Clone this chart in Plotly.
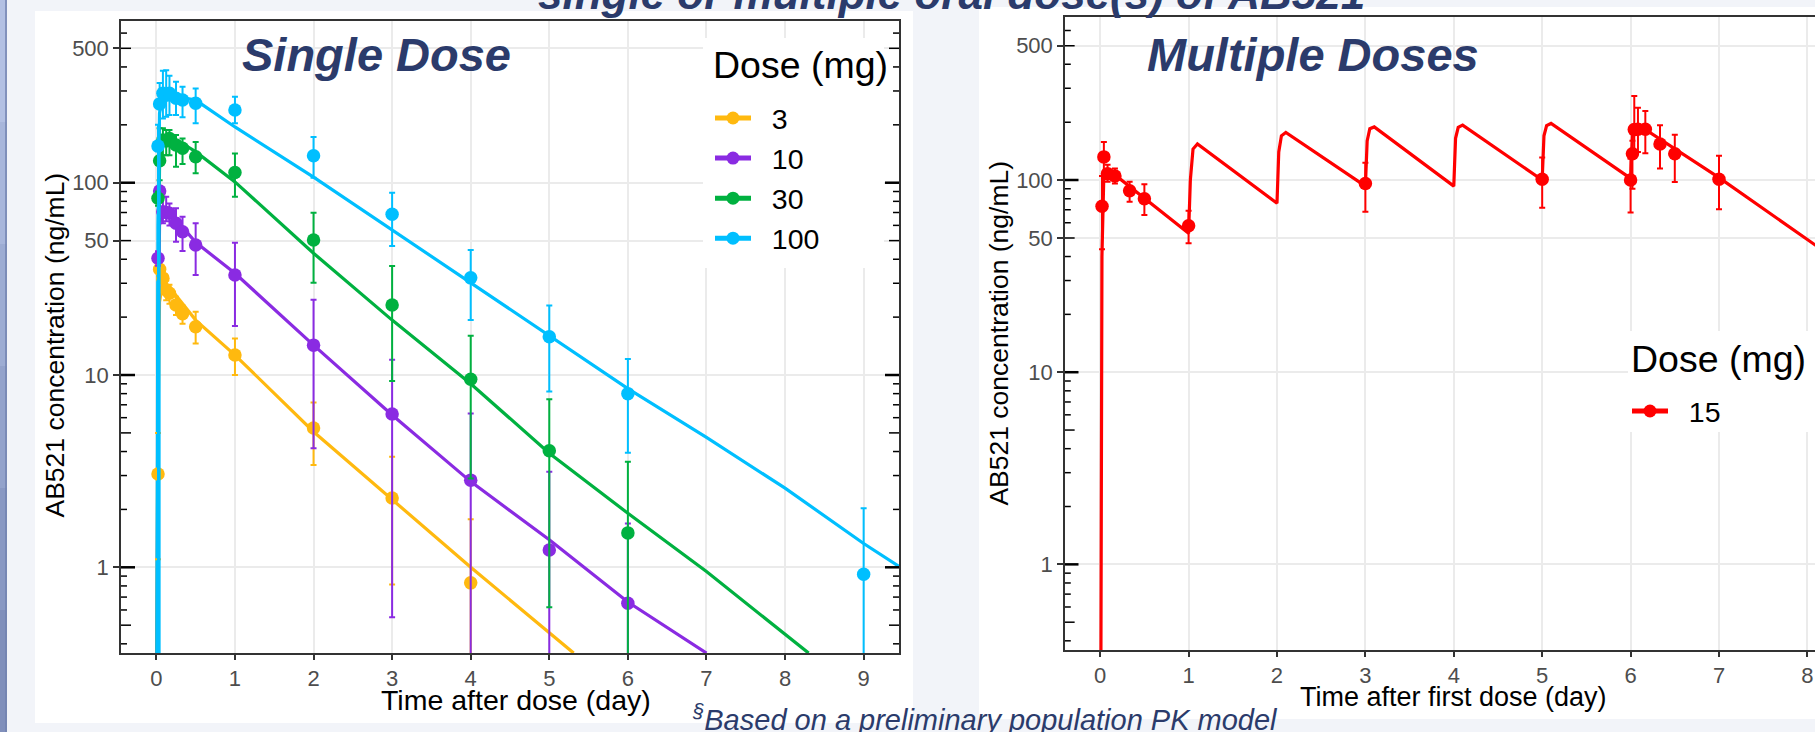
import plotly.graph_objects as go

W, H = 1815, 732

# ---------------- data: single dose panel (observed mean +/- range) ----------------
DOSES = ["3", "10", "30", "100"]
COLORS = ["#FFB90F", "#8A2BE2", "#00B140", "#00BFFF"]

obs_t_3 = [0.0208, 0.0417, 0.0833, 0.125, 0.1667, 0.25, 0.333, 0.5, 1, 2, 3, 4]
obs_c_3 = [3.06, 35.5, 31.9, 27.7, 26.6, 23.1, 20.8, 17.8, 12.7, 5.3, 2.29, 0.83]
obs_hi_3 = [5.0, 39, 35, 31, 29.5, 25.5, 23, 21.3, 15.5, 7.2, 3.76, 1.78]
obs_lo_3 = [1.1, 32, 28.5, 24.5, 23.5, 20.5, 18.5, 14.6, 10.0, 3.4, 0.815, 0]

obs_t_10 = [0.0208, 0.0417, 0.0833, 0.125, 0.1667, 0.25, 0.333, 0.5, 1, 2, 3, 4, 5, 6]
obs_c_10 = [40.5, 90.6, 70.6, 70.0, 69.3, 61.5, 55.6, 47.4, 33.1, 14.3, 6.27, 2.84, 1.23, 0.65]
obs_hi_10 = [44, 95, 84.6, 84.6, 78, 73.6, 66.6, 61.5, 48.8, 24.6, 12.0, 6.3, 3.14, 1.69]
obs_lo_10 = [37, 86, 61.5, 63, 60, 49.3, 44.2, 33.1, 18, 4.16, 0.55, 0, 0, 0]

obs_t_30 = [0.0208, 0.0417, 0.0833, 0.125, 0.1667, 0.25, 0.333, 0.5, 1, 2, 3, 4, 5, 6]
obs_c_30 = [83, 130, 167, 165, 170, 157, 151, 136.5, 113, 50.4, 23.1, 9.5, 4.04, 1.51]
obs_hi_30 = [90, 192, 192, 188, 188, 177, 170, 163, 142, 69.8, 36.9, 16, 7.47, 3.54]
obs_lo_30 = [76, 103, 139, 139, 139, 121, 125, 112, 84.6, 30.2, 9.3, 2.9, 0.62, 0]

obs_t_100 = [0.0208, 0.0417, 0.0833, 0.125, 0.1667, 0.25, 0.333, 0.5, 1, 2, 3, 4, 5, 6, 9]
obs_c_100 = [155, 257, 292, 285, 292, 275, 269, 259, 239, 138, 68.5, 32, 15.8, 8.0, 0.92]
obs_hi_100 = [200, 330, 382, 385, 360, 335, 316, 309, 280, 173, 88.7, 44.7, 23, 12.1, 2.03]
obs_lo_100 = [0, 0, 216, 220, 225, 225, 219, 204, 204, 106, 46.9, 19.3, 8.2, 3.94, 0]

# model-predicted lines
pred_t_3 = [0, 0.02, 0.04, 0.08, 0.12, 0.2, 0.5, 1, 2, 3, 4, 5.31]
pred_c_3 = [0.01, 5, 24, 30, 30, 27.5, 19.3, 12.7, 5.07, 2.24, 1.0, 0.358]
pred_t_10 = [0, 0.02, 0.04, 0.08, 0.12, 0.2, 0.5, 1, 2, 3, 4, 5, 6, 7.0]
pred_c_10 = [0.01, 10, 60, 72, 73, 68, 49, 33.8, 14.3, 6.2, 2.79, 1.39, 0.66, 0.358]
pred_t_30 = [0, 0.02, 0.04, 0.07, 0.12, 0.2, 0.5, 1, 2, 3, 4, 5, 6, 7, 8.3]
pred_c_30 = [0.01, 20, 120, 160, 175, 172, 145, 101, 43, 19.3, 9.0, 3.92, 1.91, 0.95, 0.358]
pred_t_100 = [0, 0.02, 0.04, 0.08, 0.12, 0.2, 0.5, 1, 2, 3, 4, 6, 7, 8, 9, 9.45]
pred_c_100 = [0.01, 60, 230, 275, 285, 283, 269, 195, 107, 56.8, 30, 8.5, 4.74, 2.58, 1.33, 1.01]

OBS_T = [obs_t_3, obs_t_10, obs_t_30, obs_t_100]
OBS_C = [obs_c_3, obs_c_10, obs_c_30, obs_c_100]
OBS_HI = [obs_hi_3, obs_hi_10, obs_hi_30, obs_hi_100]
OBS_LO = [obs_lo_3, obs_lo_10, obs_lo_30, obs_lo_100]
PRED_T = [pred_t_3, pred_t_10, pred_t_30, pred_t_100]
PRED_C = [pred_c_3, pred_c_10, pred_c_30, pred_c_100]

# ---------------- data: multiple dose panel (15 mg QD) ----------------
MD_DOSE = "15"
MD_COLOR = "#FF0000"
md_t = [0.0208, 0.0417, 0.0833, 0.1667, 0.333, 0.5, 1, 3, 5, 6.0, 6.0208, 6.0417, 6.0833, 6.1667, 6.333, 6.5, 7]
md_c = [73, 132, 108, 105, 88, 80, 57.8, 96, 101, 100, 137, 183, 184, 184, 154, 137, 101]
md_hi = [105, 158, 120, 115, 98, 95, 69.2, 123, 131, 129, 160, 274, 238, 229, 193, 172, 134]
md_lo = [43.7, 108, 98, 96, 77, 65.8, 46.9, 68.4, 71.8, 67.8, 90, 133, 140, 138, 115, 97.7, 70.5]
md_pred_t = [0, 0.02, 0.04, 0.08, 0.15, 1.0, 1.02, 1.05, 1.1, 2.0, 2.02, 2.05, 2.1, 3.0, 3.02, 3.05,
             3.1, 4.0, 4.02, 4.05, 4.1, 5.0, 5.02, 5.05, 5.1, 6.0, 6.02, 6.05, 6.1, 7.0, 8.4]
md_pred_c = [0.01, 40, 100, 112, 108, 52.8, 100, 145, 154, 75.7, 140, 170, 177, 93, 160, 185,
             189, 93, 165, 188, 193, 100, 170, 192, 197, 102, 170, 190, 192, 103, 36.4]

# axis ticks
X1_TICKS = [0, 1, 2, 3, 4, 5, 6, 7, 8, 9]
X2_TICKS = [0, 1, 2, 3, 4, 5, 6, 7, 8]
Y_TICKS = [1, 10, 50, 100, 500]
Y_TICKTEXT = ["1", "10", "50", "100", "500"]
LOGTICK_LONG = [1, 10, 100]
LOGTICK_MID = [0.5, 5, 50, 500]
LOGTICK_SHORT = [0.4, 0.6, 0.7, 0.8, 0.9, 2, 3, 4, 6, 7, 8, 9, 20, 30, 40, 60, 70, 80, 90,
                 200, 300, 400, 600]

NAVY = "#2B3B6B"
FONT = "Liberation Sans, Arial, sans-serif"
NBSP = "\u00a0\u00a0"
STRIP_COLORS = ["#B3C0E3", "#A8B6DB", "#9DACD3", "#93A2CB", "#8998C3", "#808FBB"]

# ---------------- geometry (pixels) ----------------
L1, R1, T1, B1 = 121, 899, 21, 653
L2, R2, T2, B2 = 1065, 1815, 17.3, 650
X2_FULL_W = 1842.8 - L2


def px(x):
    return x / W


def py(y):
    return 1 - y / H


fig = go.Figure()

# model lines
for d, c, tt, cc in zip(DOSES, COLORS, PRED_T, PRED_C):
    fig.add_trace(go.Scatter(x=tt, y=cc, mode="lines", line=dict(color=c, width=3.2),
                             showlegend=False, xaxis="x", yaxis="y", hoverinfo="skip"))
# observations
for d, c, tt, cc, hi, lo in zip(DOSES, COLORS, OBS_T, OBS_C, OBS_HI, OBS_LO):
    fig.add_trace(go.Scatter(
        x=tt, y=cc, mode="markers", marker=dict(color=c, size=13.5),
        error_y=dict(type="data", array=[h - v for h, v in zip(hi, cc)],
                     arrayminus=[v - l for v, l in zip(cc, lo)],
                     color=c, thickness=2, width=3),
        showlegend=False, xaxis="x", yaxis="y"))
# legend entries
for d, c in zip(DOSES, COLORS):
    fig.add_trace(go.Scatter(x=[None], y=[None], mode="lines+markers", name=NBSP + d,
                             line=dict(color=c, width=5), marker=dict(color=c, size=13),
                             xaxis="x", yaxis="y", legend="legend"))

# multiple dose
fig.add_trace(go.Scatter(x=md_pred_t, y=md_pred_c, mode="lines", line=dict(color=MD_COLOR, width=3.2),
                         showlegend=False, xaxis="x2", yaxis="y2", hoverinfo="skip"))
fig.add_trace(go.Scatter(
    x=md_t, y=md_c, mode="markers", marker=dict(color=MD_COLOR, size=13.5),
    error_y=dict(type="data", array=[h - v for h, v in zip(md_hi, md_c)],
                 arrayminus=[v - l for v, l in zip(md_c, md_lo)],
                 color=MD_COLOR, thickness=2, width=3),
    showlegend=False, xaxis="x2", yaxis="y2"))
fig.add_trace(go.Scatter(x=[None], y=[None], mode="lines+markers", name=NBSP + MD_DOSE,
                         line=dict(color=MD_COLOR, width=5), marker=dict(color=MD_COLOR, size=13),
                         xaxis="x2", yaxis="y2", legend="legend2"))

axis_common = dict(showline=True, linecolor="#333333", linewidth=1.5, ticks="outside",
                   tickcolor="#333333", tickwidth=1.5, showgrid=True, gridcolor="#EBEBEB",
                   gridwidth=1.5, zeroline=False,
                   tickfont=dict(family=FONT, size=22, color="#4D4D4D"))

legend_common = dict(xanchor="left", yanchor="top", bgcolor="rgba(0,0,0,0)",
                     font=dict(size=28.5, color="black", family=FONT), itemwidth=36,
                     itemclick=False, itemdoubleclick=False)

fig.update_layout(
    width=W, height=H, margin=dict(l=0, r=0, t=0, b=0),
    paper_bgcolor="#F2F4F9", plot_bgcolor="rgba(0,0,0,0)",
    font=dict(family=FONT),
    xaxis=dict(domain=[px(L1), px(R1)], range=[-0.45, 9.45], tickvals=X1_TICKS, ticklen=5,
               mirror=True, anchor="y", **axis_common),
    yaxis=dict(domain=[py(B1), py(T1)], type="log", range=[-0.4457, 2.841], tickvals=Y_TICKS,
               ticktext=Y_TICKTEXT, ticklen=6, mirror=True, anchor="x", **axis_common),
    xaxis2=dict(domain=[px(L2), 1.0], range=[-0.398, 8.086], tickvals=X2_TICKS, ticklen=5,
                mirror=True, anchor="y2", **axis_common),
    yaxis2=dict(domain=[py(B2), py(T2)], type="log", range=[-0.4457, 2.847], tickvals=Y_TICKS,
                ticktext=Y_TICKTEXT, ticklen=6, mirror=False, anchor="x2", **axis_common),
    legend=dict(x=px(710), y=py(93), **legend_common),
    legend2=dict(x=px(1627), y=py(386), **legend_common),
    showlegend=True,
)

shapes = []
# background: slide edge strip (vertical gradient bands)
n = len(STRIP_COLORS)
for i, col in enumerate(STRIP_COLORS):
    shapes.append(dict(type="rect", xref="paper", yref="paper", x0=0, x1=px(7),
                       y0=1 - (i + 1) / n, y1=1 - i / n, fillcolor=col, line=dict(width=0),
                       layer="below"))
shapes.append(dict(type="line", xref="paper", yref="paper", x0=px(6), x1=px(6), y0=0, y1=1,
                   line=dict(color="#7282AF", width=1.5), layer="below"))
shapes.append(dict(type="rect", xref="paper", yref="paper", x0=px(35), x1=px(913), y0=py(723),
                   y1=py(11), fillcolor="white", line=dict(width=0), layer="below"))
shapes.append(dict(type="rect", xref="paper", yref="paper", x0=px(979), x1=1, y0=py(719),
                   y1=py(7), fillcolor="white", line=dict(width=0), layer="below"))
# legend boxes (white, cover gridlines)
shapes.append(dict(type="rect", xref="paper", yref="paper", x0=px(703), x1=px(884), y0=py(268),
                   y1=py(38), fillcolor="white", line=dict(width=0), layer="above"))
shapes.append(dict(type="rect", xref="paper", yref="paper", x0=px(1628), x1=1, y0=py(432),
                   y1=py(331), fillcolor="white", line=dict(width=0), layer="above"))


def logtick(xref, x0, frac, v, lw):
    return dict(type="line", xref=xref, yref=xref.split()[0].replace("x", "y"), x0=x0,
                x1=x0 + frac, y0=v, y1=v, line=dict(color="black", width=lw))


for vals, ln, lw in [(LOGTICK_LONG, 14, 2.5), (LOGTICK_MID, 10, 1.5), (LOGTICK_SHORT, 6, 1.5)]:
    for v in vals:
        shapes.append(logtick("x domain", 0, ln / (R1 - L1), v, lw))
        shapes.append(logtick("x domain", 1, -ln / (R1 - L1), v, lw))
        shapes.append(logtick("x2 domain", 0, ln / X2_FULL_W, v, lw))
fig.update_layout(shapes=shapes)

ann = []
ann.append(dict(text="<b><i>single or multiple oral dose(s) of AB521</i></b>", x=px(951), y=py(-6.6),
                xref="paper", yref="paper", showarrow=False, xanchor="center", yanchor="middle",
                font=dict(size=44, color=NAVY, family=FONT)))
ann.append(dict(text="<b><i>Single Dose</i></b>", x=px(240), y=py(54.7), xref="paper", yref="paper",
                showarrow=False, xanchor="left", yanchor="middle",
                font=dict(size=47, color=NAVY, family=FONT)))
ann.append(dict(text="<b><i>Multiple Doses</i></b>", x=px(1145), y=py(54.7), xref="paper",
                yref="paper", showarrow=False, xanchor="left", yanchor="middle",
                font=dict(size=47, color=NAVY, family=FONT)))
ann.append(dict(text="<i><sup>§</sup>Based on a preliminary population PK model</i>", x=px(690),
                y=py(718), xref="paper", yref="paper", showarrow=False, xanchor="left",
                yanchor="middle", font=dict(size=29, color=NAVY, family=FONT)))
ann.append(dict(text="Time after dose (day)", x=px(516), y=py(699.5), xref="paper", yref="paper",
                showarrow=False, xanchor="center", yanchor="middle",
                font=dict(size=28.5, color="black", family=FONT)))
ann.append(dict(text="Time after first dose (day)", x=px(1453.8), y=py(697), xref="paper",
                yref="paper", showarrow=False, xanchor="center", yanchor="middle",
                font=dict(size=27, color="black", family=FONT)))
ann.append(dict(text="AB521 concentration (ng/mL)", x=px(54.5), y=py(345), xref="paper",
                yref="paper", showarrow=False, xanchor="center", yanchor="middle", textangle=-90,
                font=dict(size=26.5, color="black", family=FONT)))
ann.append(dict(text="AB521 concentration (ng/mL)", x=px(998.6), y=py(333), xref="paper",
                yref="paper", showarrow=False, xanchor="center", yanchor="middle", textangle=-90,
                font=dict(size=26.5, color="black", family=FONT)))
# legend titles
ann.append(dict(text="Dose (mg)", x=px(711), y=py(65), xref="paper", yref="paper", showarrow=False,
                xanchor="left", yanchor="middle", font=dict(size=37.5, color="black", family=FONT)))
ann.append(dict(text="Dose (mg)", x=px(1629), y=py(359), xref="paper", yref="paper",
                showarrow=False, xanchor="left", yanchor="middle",
                font=dict(size=37.5, color="black", family=FONT)))
fig.update_layout(annotations=ann)

fig.write_html("out.html")
